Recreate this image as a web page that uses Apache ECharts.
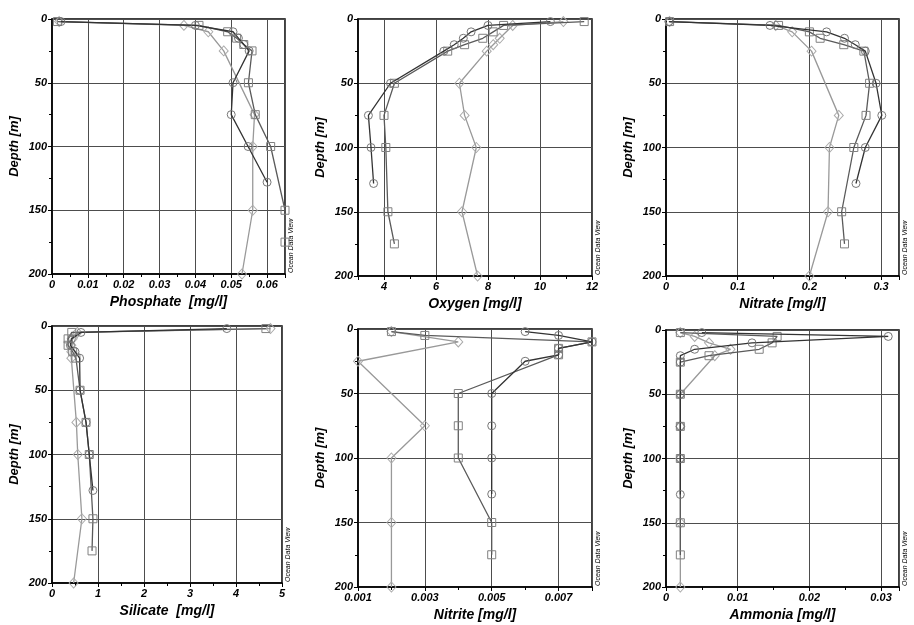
<!DOCTYPE html>
<html>
<head>
<meta charset="utf-8">
<script src="https://cdn.jsdelivr.net/npm/echarts@6/dist/echarts.min.js"></script>
<style>
html,body{margin:0;padding:0;background:#fff;}
#chart{width:914px;height:625px;}
</style>
</head>
<body>
<div id="chart"></div>
<script>
// ---------- DATA ----------
// sampling depths (m) of the three stations
const circleDepths  = [2, 5, 10, 15, 20, 25, 50, 75, 100, 128];
const squareDepths  = [2, 5, 10, 15, 20, 25, 50, 75, 100, 150, 175];
const diamondDepths = [2, 5, 10, 15, 20, 25, 50, 75, 100, 150, 200];

// Phosphate [mg/l]
const phosphateCircle  = [0.0025, 0.040, 0.0505, 0.052, 0.0535, 0.055, 0.0505, 0.050, 0.0547, 0.060];
const phosphateSquare  = [0.0015, 0.041, 0.049, 0.0515, 0.0535, 0.0558, 0.0548, 0.0567, 0.061, 0.065, 0.065];
const phosphateDiamond = [0.002, 0.0368, 0.0436, null, null, 0.0479, null, 0.0565, 0.056, 0.056, 0.053];

// Oxygen [mg/l]
const oxygenCircle  = [10.4, 8.0, 7.35, 7.05, 6.7, 6.3, 4.25, 3.4, 3.5, 3.6];
const oxygenSquare  = [11.7, 8.6, 8.2, 7.8, 7.1, 6.45, 4.4, 4.0, 4.07, 4.15, 4.4];
const oxygenDiamond = [10.9, 8.95, null, 8.45, 8.2, 7.95, 6.9, 7.1, 7.55, 7.0, 7.6];

// Nitrate [mg/l]
const nitrateCircle  = [0.004, 0.145, 0.224, 0.249, 0.264, 0.278, 0.293, 0.301, 0.278, 0.265];
const nitrateSquare  = [0.005, 0.157, 0.200, 0.215, 0.248, 0.276, 0.284, 0.279, 0.262, 0.245, 0.249];
const nitrateDiamond = [0.005, 0.153, 0.176, null, null, 0.203, null, 0.241, 0.228, 0.226, 0.200];

// Silicate [mg/l]
const silicateCircle  = [3.8, 0.63, 0.42, 0.40, 0.50, 0.60, 0.61, 0.74, 0.81, 0.89];
const silicateSquare  = [4.65, 0.43, 0.35, 0.35, 0.45, 0.52, 0.61, 0.74, 0.81, 0.89, 0.87];
const silicateDiamond = [4.75, 0.55, 0.45, 0.42, 0.42, 0.42, null, 0.53, 0.56, 0.65, 0.47];

// Nitrite [mg/l]
const nitriteCircle  = [0.006, 0.007, 0.008, 0.007, 0.007, 0.006, 0.005, 0.005, 0.005, 0.005];
const nitriteSquare  = [0.002, 0.003, 0.008, 0.007, 0.007, null, 0.004, 0.004, 0.004, 0.005, 0.005];
const nitriteDiamond = [0.002, null, 0.004, null, null, 0.001, null, 0.003, 0.002, 0.002, 0.002];

// Ammonia [mg/l]
const ammoniaCircle  = [0.005, 0.031, 0.012, 0.004, 0.002, 0.002, 0.002, 0.002, 0.002, 0.002];
const ammoniaSquare  = [0.002, 0.0155, 0.0148, 0.013, 0.006, 0.002, 0.002, 0.002, 0.002, 0.002, 0.002];
const ammoniaDiamond = [0.002, 0.004, 0.006, 0.009, 0.0068, null, 0.002, 0.002, 0.002, 0.002, 0.002];

// axis titles and ranges
const xNames = ['Phosphate  [mg/l]', 'Oxygen [mg/l]', 'Nitrate [mg/l]', 'Silicate  [mg/l]', 'Nitrite [mg/l]', 'Ammonia [mg/l]'];
const xMins = [0, 3, 0, 0, 0.001, 0];
const xMaxs = [0.065, 12, 0.325, 5, 0.008, 0.0325];
const xSteps = [0.01, 2, 0.1, 1, 0.002, 0.01];
const depthTicks = [0, 50, 100, 150, 200];
const yName = 'Depth [m]';
const watermark = 'Ocean Data View';

// ---------- LAYOUT / STYLE ----------
const FONT = 'Liberation Sans, Arial, sans-serif';
const panels = [
  {left: 52,  top: 19,  width: 233, height: 255, circle: phosphateCircle, square: phosphateSquare, diamond: phosphateDiamond},
  {left: 358, top: 19,  width: 234, height: 257, circle: oxygenCircle,    square: oxygenSquare,    diamond: oxygenDiamond},
  {left: 666, top: 19,  width: 233, height: 257, circle: nitrateCircle,   square: nitrateSquare,   diamond: nitrateDiamond},
  {left: 52,  top: 326, width: 230, height: 257, circle: silicateCircle,  square: silicateSquare,  diamond: silicateDiamond},
  {left: 358, top: 329, width: 234, height: 258, circle: nitriteCircle,   square: nitriteSquare,   diamond: nitriteDiamond},
  {left: 666, top: 330, width: 233, height: 257, circle: ammoniaCircle,   square: ammoniaSquare,   diamond: ammoniaDiamond}
];

function pairs(vals, depths) {
  const out = [];
  for (let i = 0; i < vals.length; i++) {
    if (vals[i] !== null && vals[i] !== undefined) out.push([vals[i], depths[i]]);
  }
  return out;
}

const labelStyle = {fontFamily: FONT, fontWeight: 'bold', fontStyle: 'italic', fontSize: 11, color: '#000'};
const xNameStyle = {fontFamily: FONT, fontWeight: 'bold', fontStyle: 'italic', fontSize: 14, color: '#000'};
const yNameStyle = {fontFamily: FONT, fontWeight: 'bold', fontStyle: 'italic', fontSize: 13, color: '#000'};

const grids = [], xAxes = [], yAxes = [], series = [], graphics = [];

panels.forEach((p, i) => {
  grids.push({left: p.left, top: p.top, width: p.width, height: p.height,
    show: true, borderColor: '#000', borderWidth: 1.5, backgroundColor: '#fff',
    containLabel: false, outerBoundsMode: 'none'});

  const xa = {
    gridIndex: i, type: 'value', position: 'bottom',
    min: xMins[i], max: xMaxs[i],
    name: xNames[i], nameLocation: 'middle', nameGap: 21, nameTextStyle: xNameStyle,
    axisLine: {show: true, onZero: false, lineStyle: {color: '#000', width: 1.5}},
    axisTick: {show: true, length: 4, lineStyle: {color: '#000'}},
    minorTick: {show: true, splitNumber: 2, length: 3, lineStyle: {color: '#000'}},
    axisLabel: Object.assign({margin: 5, showMaxLabel: !(i === 0 || i === 2 || i === 4 || i === 5), showMinLabel: i !== 1}, labelStyle),
    splitLine: {show: true, lineStyle: {color: '#4d4d4d', width: 1}}
  };
  if (xMins[i] % xSteps[i] === 0 || i === 4) {
    xa.interval = xSteps[i];
  } else {
    xa.minInterval = xSteps[i];
    xa.maxInterval = xSteps[i];
  }
  xAxes.push(xa);

  yAxes.push({
    gridIndex: i, type: 'value', inverse: true, min: depthTicks[0], max: depthTicks[depthTicks.length - 1],
    interval: depthTicks[1] - depthTicks[0],
    name: yName, nameLocation: 'middle', nameGap: 31, nameTextStyle: yNameStyle,
    axisLine: {show: true, onZero: false, lineStyle: {color: '#000', width: 1.5}},
    axisTick: {show: true, length: 4, lineStyle: {color: '#000'}},
    minorTick: {show: true, splitNumber: 2, length: 3, lineStyle: {color: '#000'}},
    axisLabel: Object.assign({margin: 5}, labelStyle),
    splitLine: {show: true, lineStyle: {color: '#4d4d4d', width: 1}}
  });

  const common = {type: 'line', xAxisIndex: i, yAxisIndex: i, connectNulls: true, showSymbol: true,
    clip: true, silent: true, animation: false};
  series.push(Object.assign({}, common, {
    data: pairs(p.diamond, diamondDepths), symbol: 'diamond', symbolSize: [9, 10],
    lineStyle: {color: '#999', width: 1.3},
    itemStyle: {color: 'rgba(255,255,255,0)', borderColor: '#aaa', borderWidth: 1}, z: 2}));
  series.push(Object.assign({}, common, {
    data: pairs(p.square, squareDepths), symbol: 'rect', symbolSize: 8,
    lineStyle: {color: '#5a5a5a', width: 1.3},
    itemStyle: {color: 'rgba(255,255,255,0)', borderColor: '#808080', borderWidth: 1}, z: 3}));
  series.push(Object.assign({}, common, {
    data: pairs(p.circle, circleDepths), symbol: 'circle', symbolSize: 8,
    lineStyle: {color: '#333', width: 1.3},
    itemStyle: {color: 'rgba(255,255,255,0)', borderColor: '#777', borderWidth: 1}, z: 4}));

  graphics.push({type: 'text', x: p.left + p.width + 6, y: p.top + p.height - 1, rotation: Math.PI / 2,
    style: {text: watermark, font: 'italic 7px ' + FONT, fill: '#000', align: 'left', verticalAlign: 'middle'}});
});

const chart = echarts.init(document.getElementById('chart'), null, {renderer: 'canvas'});
chart.setOption({
  backgroundColor: '#fff',
  animation: false,
  grid: grids,
  xAxis: xAxes,
  yAxis: yAxes,
  series: series,
  graphic: graphics
});
</script>
</body>
</html>
